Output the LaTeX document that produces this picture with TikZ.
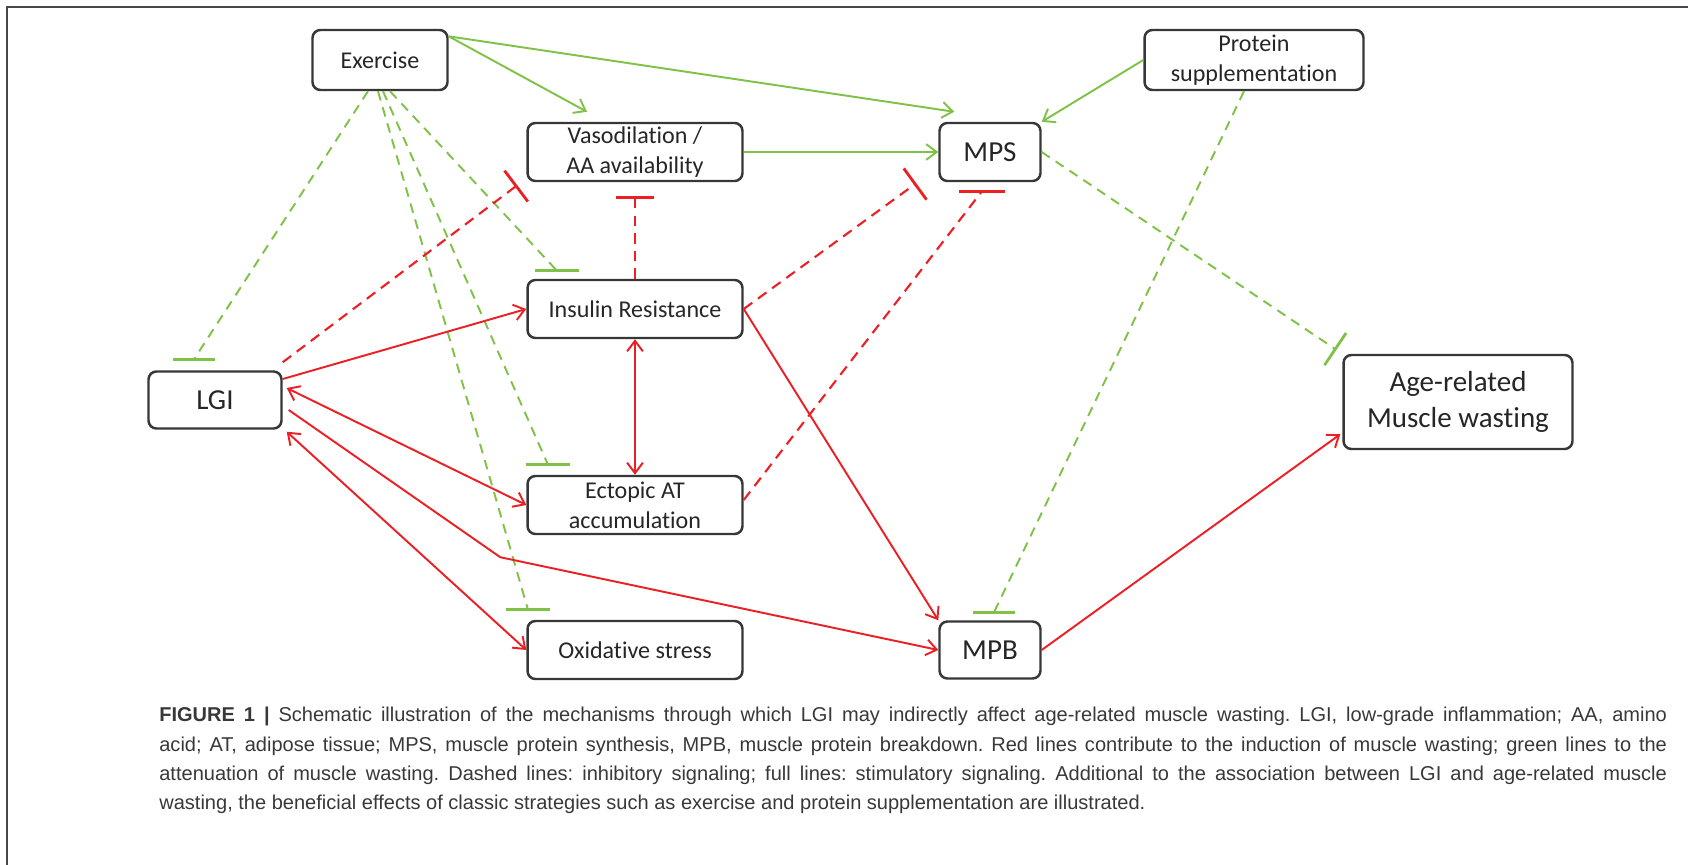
\documentclass[tikz,border=0pt]{standalone}
\usepackage{fontspec}
\usetikzlibrary{arrows.meta, calc}
\newfontfamily\boxfont[Ligatures=CommonOff]{Carlito}
\newfontfamily\capfont{Liberation Sans}
\definecolor{posgreen}{RGB}{128,194,72}
\definecolor{negred}{RGB}{236,32,36}
\definecolor{boxgray}{RGB}{55,55,55}
\definecolor{framegray}{RGB}{70,70,78}
\newlength{\capw}
\setlength{\capw}{30.16cm}

\begin{document}
\begin{tikzpicture}
        [
        x=0.02cm, y=-0.02cm,
        box/.style={draw=boxgray, line width=1.4pt, rounded corners=4.5pt, align=center, inner sep=0pt, text=black!85, font=\boxfont\fontsize{13.7}{17}\selectfont},
        wide/.style={box, minimum width=4.3cm, minimum height=1.16cm},
        big/.style={font=\boxfont\fontsize{16.5}{20.4}\selectfont},
        stim/.style={-{Straight Barb[length=6pt, width=9pt]}, line width=1.1pt},
        both/.style={{Straight Barb[length=6pt, width=9pt]}-{Straight Barb[length=6pt, width=9pt]}, line width=1.1pt},
        tbar/.style={-{Bar[width=22pt, line width=1.6pt]}},
        gdash/.style={posgreen, line width=1.1pt, dash pattern=on 5.5pt off 4pt},
        rdash/.style={negred, line width=1.2pt, dash pattern=on 6pt off 4pt},
        gflat/.style={posgreen, line width=1.6pt},
        rflat/.style={negred, line width=1.6pt},
        caption/.style={align=left, inner sep=0pt, text=black!78, font=\capfont\frenchspacing\fontsize{11.4}{16.7}\selectfont}
        ]
        \useasboundingbox (0,0) rectangle (1688,865);
        \draw[framegray, line width=1.7pt] (7,865) -- (7,7) -- (1688,7);

        \node[box, minimum width=2.7cm, minimum height=1.2cm] (exer) at (380,60) {Exercise};
        \node[wide] (vaso) at (635,152) {Vasodilation /\\AA availability};
        \node[box, big, minimum width=2.02cm, minimum height=1.16cm] (mps) at (990,152) {MPS};
        \node[box, minimum width=4.38cm, minimum height=1.2cm] (prot) at (1254,60) {Protein\\supplementation};

        \node[wide] (ir) at (635,309) {Insulin Resistance};
        \node[box, big, minimum width=2.66cm, minimum height=1.14cm] (lgi) at (215,400) {LGI};
        \node[box, big, minimum width=4.58cm, minimum height=1.88cm] (age) at (1458,402) {Age-related\\Muscle wasting};
        \node[wide] (ecto) at (635,505) {Ectopic AT\\accumulation};

        \node[wide] (oxid) at (635,650) {Oxidative stress};
        \node[box, big, minimum width=2.02cm, minimum height=1.14cm] (mpb) at (990,650) {MPB};

        % where the flat bars sit
        \coordinate (lgibar) at ($(lgi.north)+(-21,-11)$);
        \coordinate (irbar) at ($(ir.north)+(-78,-8)$);
        \coordinate (ectobar) at ($(ecto.north)+(-87,-10)$);
        \coordinate (oxidbar) at ($(oxid.north)+(-107,-10)$);
        \coordinate (mpbbar) at ($(mpb.north)+(4,-8)$);
        \coordinate (mpsbar) at ($(mps.south)+(-8,9)$);
        \coordinate (bend) at ($(ecto.south west)+(-26,22)$);

        % green: exercise and protein
        \draw[stim, posgreen] (exer.19) -- ($(vaso.north)+(-48,-10)$);
        \draw[stim, posgreen] (exer.19) -- ($(mps.north west)+(16,-10)$);
        \draw[stim, posgreen] (vaso) -- (mps);
        \draw[stim, posgreen] (prot.west) -- (mps.north east);

        \draw[gdash] ($(exer.south)+(-12,0)$) -- (lgibar);
        \draw[gdash] ($(exer.south)+(10,0)$) -- (irbar);
        \draw[gdash] ($(exer.south)+(3,0)$) -- (ectobar);
        \draw[gdash] ($(exer.south)+(-2,0)$) -- (oxidbar);
        \draw[gdash] ($(prot.south)+(-10,0)$) -- (mpbbar);
        \draw[gdash, tbar, shorten >=4pt] (mps.east) -- (age.north west);

        \draw[gflat] (lgibar) +(-21,0) -- +(21,0);
        \draw[gflat] (irbar) +(-22,0) -- +(22,0);
        \draw[gflat] (ectobar) +(-22,0) -- +(22,0);
        \draw[gflat] (oxidbar) +(-22,0) -- +(22,0);
        \draw[gflat] (mpbbar) +(-21,0) -- +(21,0);

        % red: inflammation side
        \draw[rdash, tbar] ($(lgi.north east)+(0,-8)$) -- ($(vaso.south west)+(-9,3)$);
        \draw[rdash, tbar] (ir.north) -- ($(vaso.south)+(0,14)$);
        \draw[rdash, tbar] (ir.east) -- ($(mps.south west)+(-22,1)$);
        \draw[rdash] ($(ecto.east)+(0,-5)$) -- (mpsbar);
        \draw[rflat] (mpsbar) +(-23,0) -- +(23,0);

        \draw[stim, negred] ($(lgi.east)+(0,-21)$) -- (ir.west);
        \draw[both, negred] ($(lgi.east)+(4,-12)$) -- (ecto.west);
        \draw[stim, negred] ($(lgi.east)+(6,10)$) -- (bend) -- (mpb.west);
        \draw[both, negred] ($(lgi.south east)+(4,2)$) -- (oxid.west);
        \draw[both, negred] (ir) -- (ecto);
        \draw[stim, negred] (ir.east) -- (mpb.north west);
        \draw[stim, negred] (mpb.east) -- ($(age.south west)+(-2,-16)$);

        \node[caption, anchor=north west] (cap) at (159,707) {%
        \makebox[\capw][s]{\textbf{FIGURE 1 |} Schematic illustration of the mechanisms through which LGI may indirectly affect age-related muscle wasting. LGI, low-grade inflammation; AA, amino}\\
        \makebox[\capw][s]{acid; AT, adipose tissue; MPS, muscle protein synthesis, MPB, muscle protein breakdown. Red lines contribute to the induction of muscle wasting; green lines to the}\\
        \makebox[\capw][s]{attenuation of muscle wasting. Dashed lines: inhibitory signaling; full lines: stimulatory signaling. Additional to the association between LGI and age-related muscle}\\
        wasting, the beneficial effects of classic strategies such as exercise and protein supplementation are illustrated.};

    \end{tikzpicture}
\end{document}
